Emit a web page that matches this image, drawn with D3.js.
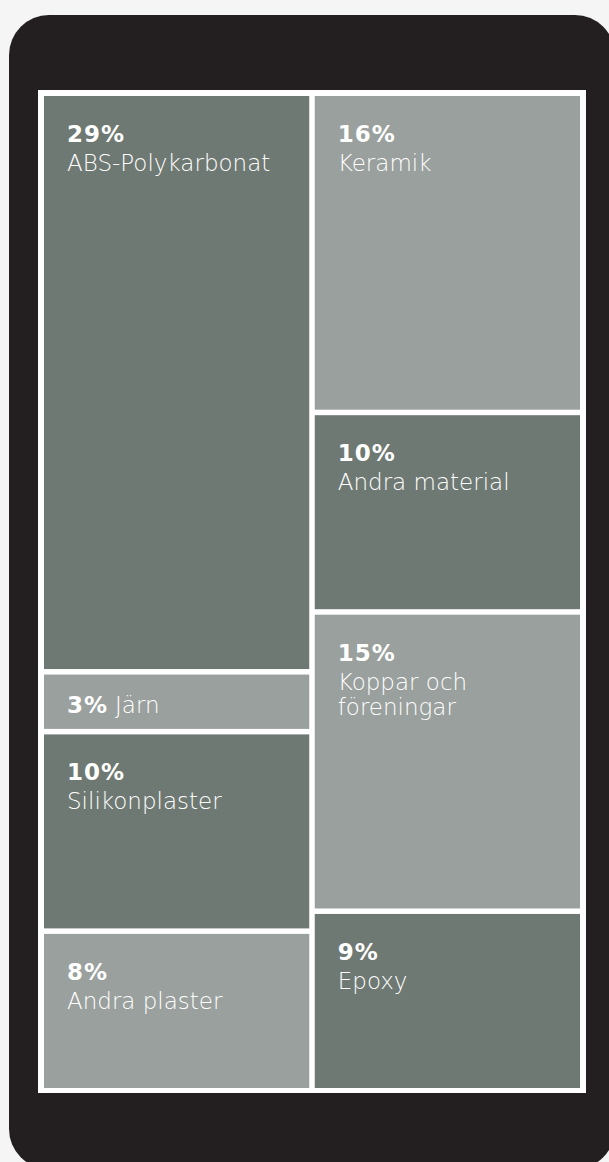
<!DOCTYPE html>
<html>
<head>
<meta charset="utf-8">
<script src="https://cdn.jsdelivr.net/npm/d3@7"></script>
<style>
  html, body { margin: 0; padding: 0; background: #f5f5f5; }
  svg { display: block; }
</style>
</head>
<body>
<svg id="chart"></svg>
<script>
// data
var labels = ["ABS-Polykarbonat", "Järn", "Silikonplaster", "Andra plaster",
  "Keramik", "Andra material", "Koppar och\nföreningar", "Epoxy"];
var values = [29, 3, 10, 8, 16, 10, 15, 9];
var columns = [0, 0, 0, 0, 1, 1, 1, 1];

var width = 609;
var height = 1162;

var darkFill = "#6f7973";
var lightFill = "#9aa09d";

var svg = d3.select("#chart")
  .attr("width", width)
  .attr("height", height);

// phone body
svg.append("rect")
  .attr("x", 9)
  .attr("y", 15)
  .attr("width", 606)
  .attr("height", 1154)
  .attr("rx", 40)
  .attr("fill", "#231f20");

// white frame behind the cells
svg.append("rect")
  .attr("x", 38)
  .attr("y", 90)
  .attr("width", 548)
  .attr("height", 1003)
  .attr("fill", "#ffffff");

var tree = { children: [{ children: [] }, { children: [] }] };
for (var i = 0; i < values.length; i++) {
  tree.children[columns[i]].children.push({ name: labels[i], value: values[i], idx: i, col: columns[i] });
}

var root = d3.hierarchy(tree).sum(function(d) { return d.value || 0; });

d3.treemap()
  .size([536, 992])
  .paddingInner(5.5)
  .tile(function(node, x0, y0, x1, y1) {
    if (node.depth === 0) d3.treemapDice(node, x0, y0, x1, y1);
    else d3.treemapSlice(node, x0, y0, x1, y1);
  })(root);

var g = svg.append("g").attr("transform", "translate(44,96)");

var cells = g.selectAll("g.cell")
  .data(root.leaves())
  .enter()
  .append("g")
  .attr("class", "cell")
  .attr("transform", function(d) { return "translate(" + d.x0 + "," + d.y0 + ")"; });

cells.append("rect")
  .attr("width", function(d) { return d.x1 - d.x0; })
  .attr("height", function(d) { return d.y1 - d.y0; })
  .attr("fill", function(d) { return (d.data.idx + d.data.col) % 2 === 0 ? darkFill : lightFill; });

function pct(sel) {
  sel.style("font-family", "'DejaVu Sans', sans-serif")
    .style("font-weight", 700)
    .style("font-size", "23px")
    .style("letter-spacing", "1px");
}
function name(sel) {
  sel.style("font-family", "'DejaVu Sans', sans-serif")
    .style("font-weight", 200)
    .style("font-size", "23px");
}

cells.each(function(d) {
  var cell = d3.select(this);
  var h = d.y1 - d.y0;

  if (h < 80) {
    // short cell: percent and name on one line
    var text = cell.append("text")
      .attr("x", 23)
      .attr("y", h / 2 + 11)
      .attr("fill", "#ffffff");
    text.append("tspan").call(pct).text(d.data.value + "%");
    text.append("tspan").call(name).attr("dx", 7).text(d.data.name);
  } else {
    cell.append("text")
      .attr("x", 23)
      .attr("y", 46)
      .attr("fill", "#ffffff")
      .call(pct)
      .text(d.data.value + "%");
    d.data.name.split("\n").forEach(function(line, k) {
      cell.append("text")
        .attr("x", 23)
        .attr("y", 75 + k * 25)
        .attr("fill", "#ffffff")
        .call(name)
        .text(line);
    });
  }
});
</script>
</body>
</html>
